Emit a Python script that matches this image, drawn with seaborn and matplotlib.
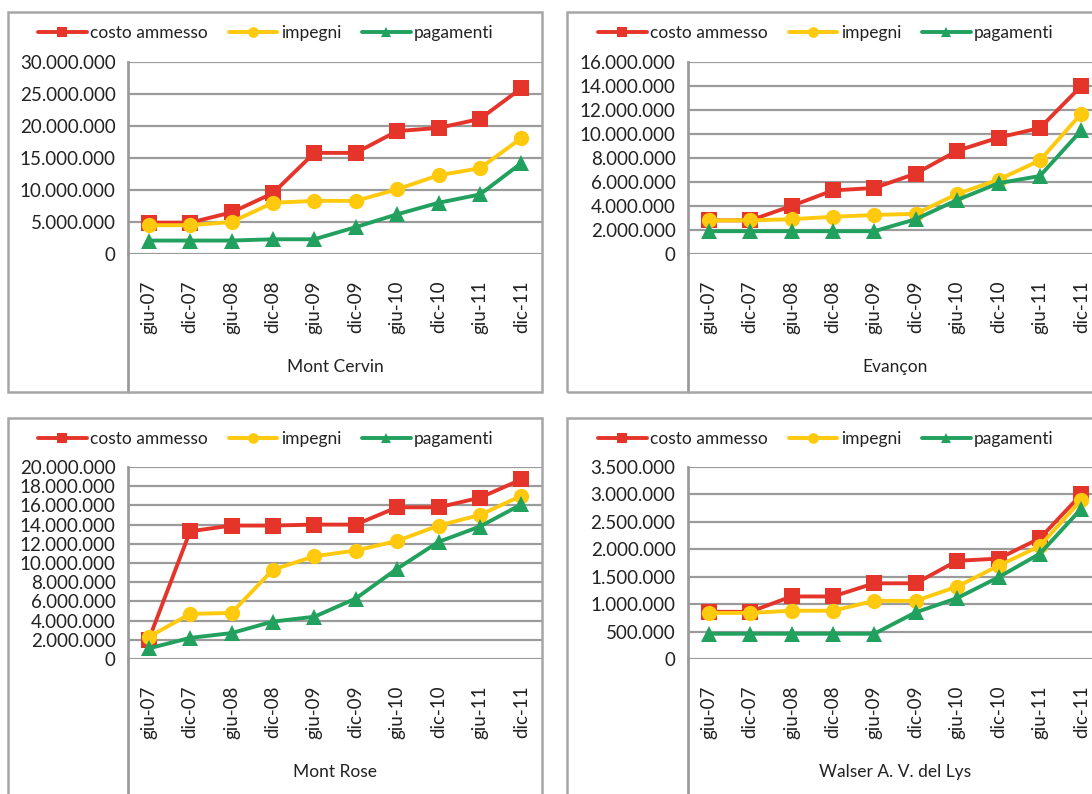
"""
Andamento costo ammesso / impegni / pagamenti per i quattro territori
"""
import matplotlib
matplotlib.use("Agg")
import matplotlib.pyplot as plt
from matplotlib.patches import Rectangle
from matplotlib.lines import Line2D
from matplotlib.ticker import FuncFormatter, MultipleLocator
import pandas as pd
import seaborn as sns

# 数据
categories = ["giu-07", "dic-07", "giu-08", "dic-08", "giu-09",
              "dic-09", "giu-10", "dic-10", "giu-11", "dic-11"]
series_names = ["costo ammesso", "impegni", "pagamenti"]

cervin_costo = [4900000, 4900000, 6500000, 9500000, 15800000, 15800000, 19200000, 19700000, 21100000, 25900000]
cervin_impegni = [4500000, 4500000, 5000000, 8000000, 8300000, 8300000, 10100000, 12300000, 13400000, 18100000]
cervin_pagamenti = [2100000, 2100000, 2100000, 2300000, 2300000, 4200000, 6200000, 8000000, 9300000, 14200000]

evancon_costo = [2800000, 2800000, 4000000, 5300000, 5500000, 6700000, 8600000, 9700000, 10500000, 14000000]
evancon_impegni = [2800000, 2800000, 2900000, 3100000, 3250000, 3350000, 5000000, 6200000, 7800000, 11700000]
evancon_pagamenti = [1900000, 1900000, 1900000, 1900000, 1900000, 2900000, 4500000, 5900000, 6500000, 10300000]

rose_costo = [2000000, 13300000, 13900000, 13900000, 14000000, 14000000, 15800000, 15800000, 16800000, 18700000]
rose_impegni = [2300000, 4700000, 4800000, 9300000, 10700000, 11300000, 12300000, 13900000, 15000000, 17000000]
rose_pagamenti = [1100000, 2200000, 2700000, 3900000, 4400000, 6300000, 9400000, 12200000, 13800000, 16100000]

walser_costo = [860000, 860000, 1140000, 1140000, 1380000, 1380000, 1790000, 1830000, 2200000, 3000000]
walser_impegni = [840000, 840000, 880000, 880000, 1060000, 1060000, 1320000, 1700000, 2060000, 2900000]
walser_pagamenti = [460000, 460000, 460000, 460000, 460000, 850000, 1110000, 1490000, 1920000, 2740000]

panel_titles = ["Mont Cervin", "Evançon", "Mont Rose", "Walser A. V. del Lys"]
panel_ymax = [30000000, 16000000, 20000000, 3500000]
panel_ystep = [5000000, 2000000, 2000000, 500000]

colors = {"costo ammesso": "#e5352a", "impegni": "#ffc90e", "pagamenti": "#22a05e"}
markers = {"costo ammesso": "s", "impegni": "o", "pagamenti": "^"}
grid_color = "#9b9b9b"
text_color = "#222222"


def make_frame(costo, impegni, pagamenti):
    rows = []
    for name, vals in zip(series_names, [costo, impegni, pagamenti]):
        for cat, v in zip(categories, vals):
            rows.append({"periodo": cat, "serie": name, "valore": v})
    return pd.DataFrame(rows)


frames = [
    make_frame(cervin_costo, cervin_impegni, cervin_pagamenti),
    make_frame(evancon_costo, evancon_impegni, evancon_pagamenti),
    make_frame(rose_costo, rose_impegni, rose_pagamenti),
    make_frame(walser_costo, walser_impegni, walser_pagamenti),
]

sns.set_style("white")
plt.rcParams["font.family"] = ["Lato", "DejaVu Sans"]

W, H = 1092, 794
fig = plt.figure(figsize=(W / 100, H / 100), dpi=100)

# 像素布局 (left, top, right, bottom)
panel_boxes = [(8, 12, 542, 392), (567, 12, 1101, 392),
               (8, 418, 542, 798), (567, 418, 1101, 798)]
axes_boxes = [(128, 62, 542, 254), (688, 62, 1102, 254),
              (128, 467, 542, 659), (688, 467, 1102, 659)]
legend_centers = [(266, 33), (826, 33), (266, 439), (826, 439)]


def fx(px):
    return px / W


def fy(py):
    return 1 - py / H


for i in range(4):
    l, t, r, b = panel_boxes[i]
    fig.patches.append(Rectangle((fx(l), fy(b)), fx(r - l), (b - t) / H,
                                 transform=fig.transFigure, fill=False,
                                 edgecolor="#a6a6a6", linewidth=1.8, zorder=0))

    l, t, r, b = axes_boxes[i]
    ax = fig.add_axes([fx(l), fy(b), fx(r - l), (b - t) / H])
    sns.lineplot(data=frames[i], x="periodo", y="valore", hue="serie", style="serie",
                 hue_order=series_names, style_order=series_names,
                 palette=colors, markers=markers, dashes=False, sort=False,
                 linewidth=2.8, markersize=11, markeredgewidth=0, ax=ax)

    ax.set_xlim(-0.5, len(categories) - 0.5)
    ax.set_ylim(0, panel_ymax[i])
    ax.yaxis.set_major_locator(MultipleLocator(panel_ystep[i]))
    ax.yaxis.set_major_formatter(FuncFormatter(lambda v, p: f"{v:,.0f}".replace(",", ".")))
    ax.grid(axis="y", color=grid_color, linewidth=1.6)
    ax.set_axisbelow(True)
    for s in ["top", "right", "bottom"]:
        ax.spines[s].set_visible(False)
    ax.spines["left"].set_color(grid_color)
    ax.spines["left"].set_linewidth(2)

    ax.tick_params(axis="y", length=5, width=1.6, color=grid_color,
                   labelsize=13.5, labelcolor=text_color, pad=4)
    ax.set_xticks(range(len(categories)))
    ax.set_xticklabels(categories, rotation=90, fontsize=13.5, color=text_color)
    ax.tick_params(axis="x", which="major", length=0, pad=19)
    ax.set_xticks([k + 0.5 for k in range(len(categories))], minor=True)
    ax.tick_params(axis="x", which="minor", length=59, width=1.6, color=grid_color)
    ax.set_xlabel("")
    ax.set_ylabel("")

    # 零线和类别分隔
    ax.axhline(0, color=grid_color, linewidth=1.8, zorder=1)
    pb = panel_boxes[i][3]
    ax.add_line(Line2D([0, 0], [0, -(pb - b) / (b - t)], transform=ax.transAxes,
                       color=grid_color, linewidth=2, clip_on=False))
    ax.text(0.5, -(113) / (b - t), panel_titles[i], transform=ax.transAxes,
            ha="center", va="center", fontsize=12.5, color=text_color)

    handles, labels = ax.get_legend_handles_labels()
    ax.get_legend().remove()
    cx, cy = legend_centers[i]
    fig.legend(handles, labels, loc="center", bbox_to_anchor=(fx(cx), fy(cy)),
               ncol=3, frameon=False, fontsize=12.5, handlelength=2.8,
               handletextpad=0.2, columnspacing=1.2, markerscale=0.7,
               labelcolor=text_color)

fig.savefig("out.png", dpi=100, facecolor="white")
